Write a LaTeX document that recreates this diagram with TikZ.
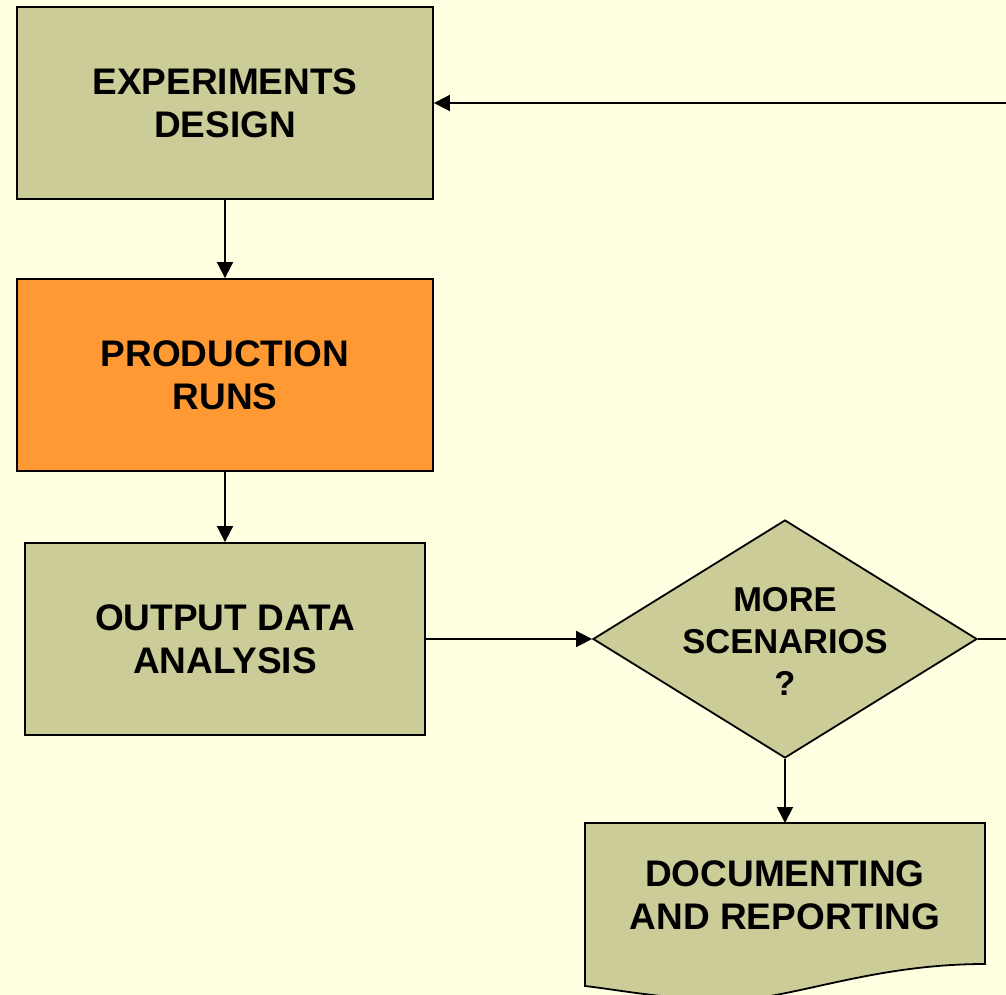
\documentclass[tikz,border=0pt]{standalone}
\usepackage{fontspec}
\setmainfont{Liberation Sans}
\usetikzlibrary{arrows.meta,shapes.geometric}
\definecolor{bgyellow}{HTML}{FFFFE1}
\definecolor{khaki}{HTML}{CCCC99}
\definecolor{orangebox}{HTML}{FF9933}
\tikzset{
  label font/.style={font=\fontsize{37}{43}\selectfont\bfseries},
  small label font/.style={font=\fontsize{34.5}{42}\selectfont\bfseries},
  box/.style={draw=black, line width=1.8pt, fill=khaki, minimum width=416pt, minimum height=192pt,
    align=center, inner sep=0pt, label font},
  decision/.style={diamond, draw=black, line width=1.8pt, fill=khaki, minimum width=384pt, minimum height=238pt,
    inner sep=0pt},
  flow/.style={draw=black, line width=1.8pt, -{Triangle[length=16pt,width=16pt]}},
  line/.style={draw=black, line width=1.8pt}
}
\begin{document}
\begin{tikzpicture}[x=1pt,y=-1pt]
  \fill[bgyellow] (0,0) rectangle (1006,995);
  \useasboundingbox (0,0) rectangle (1006,995);
  \clip (0,0) rectangle (1006,995);

  \node[box] (design) at (225,103) {EXPERIMENTS\\DESIGN};
  \node[box, fill=orangebox] (runs) at (225,375) {PRODUCTION\\RUNS};
  \node[box, minimum width=400pt] (analysis) at (225,639) {OUTPUT DATA\\ANALYSIS};
  \node[decision] (more) at (785,639) {};
  \node[small label font, align=center] (moretext) at (785,641) {MORE\\SCENARIOS\\?};

  % document shape with wavy bottom edge
  \draw[line width=1.8pt, fill=khaki] (585,823) -- (985,823) -- (985,964)
    .. controls (870,964) and (790,1000) .. (730,1000)
    .. controls (670,1000) and (620,990) .. (585,986) -- cycle;
  \coordinate (doctop) at (785,823);
  \node[label font, align=center] (report) at (785,895)
    {DOCUMENTING\\AND REPORTING};

  \coordinate (loopA) at (1030,639);
  \coordinate (loopB) at (1030,103);

  \draw[flow] (design) -- (runs);
  \draw[flow] (runs) -- (analysis);
  \draw[flow] (analysis) -- (more);
  \draw[flow] (more) -- (doctop);
  \draw[line] (more.east) -- (loopA) -- (loopB);
  \draw[flow] (loopB) -- (design.east);
\end{tikzpicture}
\end{document}
